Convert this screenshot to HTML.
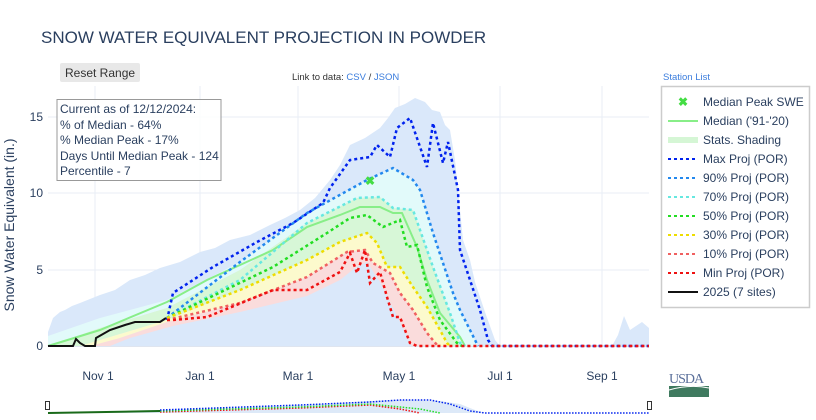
<!DOCTYPE html>
<html><head><meta charset="utf-8"><style>
body{margin:0;background:#fff;width:816px;height:420px;overflow:hidden;font-family:"Liberation Sans",sans-serif}
svg{display:block}
</style></head><body>
<svg width="816" height="420" xmlns="http://www.w3.org/2000/svg" font-family="Liberation Sans, sans-serif">
<text x="41" y="43" font-size="17" fill="#2a3f5f">SNOW WATER EQUIVALENT PROJECTION IN POWDER</text>
<rect x="60" y="63" width="80" height="19" rx="2" fill="#e8e8e8"/>
<text x="65" y="77" font-size="12" fill="#333">Reset Range</text>
<text x="292" y="80" font-size="9.5" fill="#333">Link to data: <tspan fill="#3b7ddd">CSV</tspan> / <tspan fill="#3b7ddd">JSON</tspan></text>
<text x="663" y="80" font-size="9.5" fill="#3b7ddd">Station List</text>
<g stroke="#e8edf5" stroke-width="1">
<line x1="95" y1="86" x2="95" y2="346"/><line x1="200" y1="86" x2="200" y2="346"/><line x1="298" y1="86" x2="298" y2="346"/><line x1="399" y1="86" x2="399" y2="346"/><line x1="500" y1="86" x2="500" y2="346"/><line x1="602" y1="86" x2="602" y2="346"/>
<line x1="48" y1="117" x2="649" y2="117"/><line x1="48" y1="193" x2="649" y2="193"/><line x1="48" y1="270" x2="649" y2="270"/>
</g>
<line x1="48" y1="346" x2="649" y2="346" stroke="#dfe5ef" stroke-width="2"/>
<g font-size="12" fill="#2a3f5f" text-anchor="end">
<text x="43" y="121">15</text><text x="43" y="197">10</text><text x="43" y="274">5</text><text x="43" y="350">0</text></g>
<g font-size="12" fill="#2a3f5f" text-anchor="middle">
<text x="98" y="380">Nov 1</text><text x="200" y="380">Jan 1</text><text x="298" y="380">Mar 1</text><text x="399" y="380">May 1</text><text x="500" y="380">Jul 1</text><text x="602" y="380">Sep 1</text></g>
<text transform="translate(14,225) rotate(-90)" font-size="14" fill="#2a3f5f" text-anchor="middle">Snow Water Equivalent (in.)</text>
<path d="M48,346 L48,332 53,318 60,312 65,310 72,306 80,303 100,295 115,290 130,280 145,275 160,268 180,262 200,252 215,248 230,240 250,235 270,225 285,218 300,210 315,198 330,180 340,165 350,145 365,138 380,128 388,118 395,108 405,104 415,98 425,102 432,110 440,112 445,125 450,130 455,160 458,190 463,240 470,260 475,282 485,312 495,340 500,346 Z" fill="#dae8fa"/>
<path d="M612,346 L618,335 624,316 630,330 636,326 642,322 649,328 649,346 Z" fill="#dae8fa"/>
<path d="M48,346 L48,336 100,318 167,300 240,262 307,213 367,180 393,168 413,180 420,190 433,233 453,293 460,310 470,330 478,346 465,346 460,343 450,313 433,267 413,210 393,208 380,197 357,198 307,223 240,270 167,308 100,328 60,342 Z" fill="#e2fafa"/>
<path d="M48,346 L60,342 100,328 167,308 240,270 307,223 357,198 380,197 393,208 413,210 433,267 450,313 460,343 465,346 450,346 447,343 440,330 427,307 413,287 400,267 387,267 377,243 367,233 340,242 307,260 240,290 167,320 120,334 80,346 Z" fill="#d7f7d7"/>
<path d="M80,346 L120,334 167,320 240,290 307,260 340,242 367,233 377,243 387,267 400,267 413,287 427,307 440,330 447,343 450,346 437,346 427,333 413,310 400,293 390,273 373,263 365,250 347,252 307,277 240,303 167,322 120,338 100,346 Z" fill="#fcfacd"/>
<path d="M90,346 L120,338 167,322 240,303 307,277 347,252 365,250 373,263 390,273 400,293 413,310 427,333 437,346 412,346 400,322 390,302 380,282 367,262 355,268 340,280 307,296 240,312 173,326 130,338 110,346 Z" fill="#fadcdc"/>
<polyline fill="none" stroke="#88ee88" stroke-width="2" points="48,346 100,330 167,302 207,280 273,250 307,227 340,215 360,207 380,207 393,213 402,213 417,247 427,280 440,313 460,337 465,346"/>
<g fill="none" stroke-width="2.5" stroke-dasharray="3,3">
<polyline stroke="#0022ee" points="167,320 173,293 213,267 257,242 293,223 323,203 330,188 350,160 370,157 377,145 390,157 397,128 410,118 427,167 433,123 443,163 448,142 458,190 460,250 470,280 480,310 488,340 492,346 649,346"/>
<polyline stroke="#2288ee" points="167,318 240,262 307,213 367,180 393,168 413,180 420,190 433,233 453,293 460,310 470,330 478,346"/>
<polyline stroke="#66e8e0" points="167,318 240,280 307,223 357,198 380,197 393,208 413,210 433,267 450,313 460,343 465,346"/>
<polyline stroke="#22dd22" points="167,318 273,267 327,233 350,218 367,215 383,227 400,220 407,247 417,245 427,287 440,320 457,343 462,346"/>
<polyline stroke="#eedd00" points="167,318 240,290 307,260 340,242 367,233 377,243 387,267 400,267 413,287 427,307 440,330 447,343 450,346"/>
<polyline stroke="#f06060" points="167,320 240,303 307,277 347,252 365,250 373,263 390,273 400,293 413,310 427,333 437,345 440,346"/>
<polyline stroke="#ee1111" points="167,320 173,320 207,317 273,290 307,290 340,272 350,253 357,273 365,250 370,283 380,272 387,297 393,317 400,317 410,343 417,346 649,346"/>
</g>
<polyline fill="none" stroke="#111" stroke-width="2" points="48,346 73,346 76,339 80,343 85,346 95,346 96,338 110,330 125,325 135,322 160,322 166,318"/>
<text x="370" y="185" font-size="12" font-weight="bold" fill="#44dd44" text-anchor="middle">✖</text>
<rect x="57" y="99.5" width="164" height="81" fill="#fff" fill-opacity="0.8" stroke="#999"/>
<g font-size="12" fill="#2a3f5f">
<text x="60" y="113">Current as of 12/12/2024:</text><text x="60" y="129">% of Median - 64%</text><text x="60" y="144">% Median Peak - 17%</text><text x="60" y="160">Days Until Median Peak - 124</text><text x="60" y="175">Percentile - 7</text></g>
<rect x="661.5" y="86.5" width="148" height="221" fill="#fff" stroke="#ccc" stroke-width="1.5"/>
<text x="683" y="106" font-size="12" font-weight="bold" fill="#44dd44" text-anchor="middle">✖</text>
<line x1="668" y1="121" x2="698" y2="121" stroke="#88ee88" stroke-width="2"/>
<rect x="668" y="137" width="30" height="6" fill="#d5f6d5"/>
<g stroke-width="2" stroke-dasharray="3,3">
<line x1="668" y1="159" x2="698" y2="159" stroke="#0022ee"/>
<line x1="668" y1="178" x2="698" y2="178" stroke="#2288ee"/>
<line x1="668" y1="197" x2="698" y2="197" stroke="#66e8e0"/>
<line x1="668" y1="216" x2="698" y2="216" stroke="#22dd22"/>
<line x1="668" y1="235" x2="698" y2="235" stroke="#eedd00"/>
<line x1="668" y1="254" x2="698" y2="254" stroke="#f06060"/>
<line x1="668" y1="273" x2="698" y2="273" stroke="#ee1111"/>
</g>
<line x1="668" y1="292" x2="698" y2="292" stroke="#111" stroke-width="2"/>
<g font-size="12" fill="#2a3f5f">
<text x="703" y="106">Median Peak SWE</text><text x="703" y="125">Median ('91-'20)</text><text x="703" y="144">Stats. Shading</text><text x="703" y="163">Max Proj (POR)</text><text x="703" y="182">90% Proj (POR)</text><text x="703" y="201">70% Proj (POR)</text><text x="703" y="220">50% Proj (POR)</text><text x="703" y="239">30% Proj (POR)</text><text x="703" y="258">10% Proj (POR)</text><text x="703" y="277">Min Proj (POR)</text><text x="703" y="296">2025 (7 sites)</text></g>
<text x="669" y="383" font-size="14" font-family="Liberation Serif, serif" fill="#5a6f9a" letter-spacing="-1">USDA</text>
<path d="M669,386 L709,386 L709,397 L669,397 Z" fill="#3f7a5f"/>
<path d="M669,390 Q690,384 709,388" stroke="#fff" stroke-width="1" fill="none"/>
<path d="M48,413 L160,410 240,408 300,405 340,403 370,401 400,400 440,401 460,404 475,410 485,413 Z" fill="#dde9f8"/>
<g fill="none" stroke-width="1.5" stroke-dasharray="1.5,1.5">
<polyline stroke="#ee1111" points="160,412 300,408 370,405 400,409 420,413"/>
<polyline stroke="#22dd22" points="160,411 300,407 370,404 420,409 440,413"/>
<polyline stroke="#0022ee" points="160,410 300,405 370,402 400,400 430,400 450,404 470,411 485,413 649,413"/>
</g>
<polyline fill="none" stroke="#1a6a1a" stroke-width="2" points="48,413 160,411"/>
<rect x="45.5" y="401.5" width="4" height="8" fill="#fff" stroke="#333"/>
<rect x="647.5" y="401.5" width="4" height="8" fill="#fff" stroke="#333"/>
</svg>
</body></html>
